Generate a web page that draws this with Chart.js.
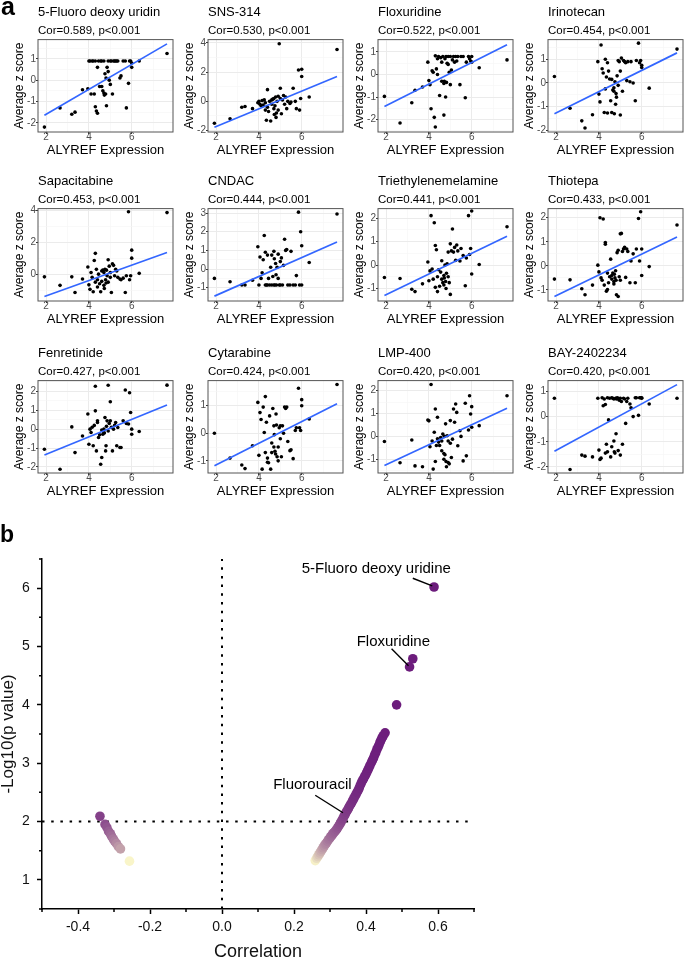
<!DOCTYPE html>
<html>
<head>
<meta charset="utf-8">
<title>ALYREF drug sensitivity</title>
<script src="https://cdn.jsdelivr.net/npm/chart.js@4.4.1/dist/chart.umd.min.js"></script>
<style>
  html, body { margin: 0; padding: 0; background: #fff; }
  body { position: relative; width: 685px; height: 961px; overflow: hidden; font-family: "Liberation Sans", Arial, sans-serif; }
  canvas { position: absolute; }
  .tag { position: absolute; font-weight: bold; line-height: 1; color: #000; z-index: 2; }
</style>
</head>
<body>
<canvas id="volcano" width="490" height="451" style="left:0;top:510px"></canvas>
<div class="tag" style="left:1px;top:-6px;font-size:25px">a</div>
<div class="tag" style="left:0px;top:523px;font-size:23px">b</div>
<script>
// ---- panel a: drug z score vs ALYREF expression ----
const drugNames = ["5-Fluoro deoxy uridin", "SNS-314", "Floxuridine", "Irinotecan",
  "Sapacitabine", "CNDAC", "Triethylenemelamine", "Thiotepa",
  "Fenretinide", "Cytarabine", "LMP-400", "BAY-2402234"];
const corText = ["Cor=0.589, p<0.001", "Cor=0.530, p<0.001", "Cor=0.522, p<0.001", "Cor=0.454, p<0.001",
  "Cor=0.453, p<0.001", "Cor=0.444, p<0.001", "Cor=0.441, p<0.001", "Cor=0.433, p<0.001",
  "Cor=0.427, p<0.001", "Cor=0.424, p<0.001", "Cor=0.420, p<0.001", "Cor=0.420, p<0.001"];

// ALYREF expression per cell line (shared by all panels)
const alyrefExpr = [1.92, 2.65, 3.2, 3.35, 3.7, 3.95, 4.0, 4.05, 4.1, 4.15,
  4.2, 4.25, 4.3, 4.3, 4.35, 4.4, 4.4, 4.45, 4.5, 4.55,
  4.6, 4.6, 4.65, 4.7, 4.7, 4.72, 4.75, 4.78, 4.8, 4.82,
  4.85, 4.9, 4.9, 4.95, 5.0, 5.0, 5.05, 5.1, 5.15, 5.2,
  5.25, 5.3, 5.35, 5.45, 5.5, 5.6, 5.7, 5.75, 5.85, 5.9,
  5.95, 6.0, 6.0, 6.35, 7.65];

const zFdU = [-2.2, -1.3, -1.6, -1.5, -0.45, -0.4, 0.9, 0.9, -0.65, 0.9,
  0.9, -0.65, -1.25, 0.9, -1.45, -1.55, 0.6, 0.9, -0.3, 0.9,
  -0.3, 0.9, -0.5, -0.6, 0.9, -0.7, 0.3, -0.65, 0.1, -1.2,
  0.6, 0.9, 0.4, 0.0, -0.2, 0.9, 0.9, -0.65, 0.9, 0.9,
  0.9, 0.9, 0.9, 0.1, 0.2, 0.9, 0.9, -1.3, -0.15, 0.9,
  0.9, 0.6, 0.8, 0.9, 1.25];
const zSNS314 = [-1.5, -1.2, -0.4, -0.35, -0.5, -0.1, 0.0, -0.2, -0.3, 0.05,
  -0.25, 0.1, -0.6, -0.1, -1.3, 0.8, -0.4, -0.7, 0.0, -1.35,
  0.1, -0.2, 0.15, -0.5, 0.2, -0.9, -0.3, 0.3, -1.1, -0.8,
  0.0, 0.35, -0.6, 3.95, 0.9, 0.2, -0.85, 0.1, 0.4, -0.2,
  0.3, -0.5, 0.0, -0.15, -0.05, 0.9, 0.0, -0.5, 2.15, -0.6,
  0.2, 2.2, 1.7, 0.3, 3.55];
const zFloxuridine = [-0.97, -2.15, -1.25, -0.7, -0.55, 0.55, -0.27, -0.45, -1.52, 0.17,
  0.1, -1.9, -2.33, 0.83, 0.25, 0.0, 0.7, 0.8, -0.93, 0.75,
  0.55, -0.3, 0.8, -1.8, -0.4, -0.3, 0.7, -1.0, 0.8, -0.35,
  0.5, 0.8, 0.45, 0.1, -0.45, 0.8, 0.2, 0.65, 0.8, 0.55,
  0.8, 0.6, 0.8, -0.45, 0.8, 0.8, -1.03, 0.55, 0.8, 0.7,
  0.6, 0.8, 0.55, 0.3, 0.65];
const zIrinotecan = [0.27, -1.07, -1.6, -1.9, -1.34, 0.9, -0.47, -0.8, 1.6, 0.6,
  0.42, -1.25, 1.0, -0.25, 0.25, 0.85, -1.27, 0.5, 0.17, -0.75,
  0.15, -1.25, -0.3, -0.35, -0.2, -1.3, 0.05, -0.9, -0.45, -0.6,
  0.3, 0.95, -0.1, 0.9, 0.5, -1.35, 1.05, -0.35, 0.95, 0.9,
  0.85, 0.1, 0.9, 0.05, 0.9, 0.0, -0.75, 0.95, 1.68, 0.85,
  0.95, 0.75, 0.65, -0.22, 1.43];
const zSapacitabine = [-0.17, -0.7, -0.17, -1.15, -0.3, 0.45, -0.67, -0.95, 0.1, -0.2,
  -1.1, 0.85, 1.3, -0.5, 0.3, -0.35, -0.8, 0.0, -0.6, -1.1,
  0.2, -0.45, 0.25, -0.7, 0.1, -0.9, 0.3, -0.35, -0.55, 0.25,
  -0.1, 0.9, -0.5, 0.5, -0.2, 0.1, -1.15, 0.65, 0.55, -0.1,
  0.3, 0.2, -0.2, -0.3, -0.35, -0.25, -1.15, -0.1, 3.9, -0.35,
  -0.1, 1.5, 1.0, 0.05, 3.85];
const zCNDAC = [-0.5, -0.68, -0.85, -0.85, -0.6, 1.2, -0.85, 0.65, -0.5, -0.2,
  0.5, 1.8, -0.85, 0.9, -0.85, 0.75, -0.85, -0.5, -0.85, 0.1,
  0.75, -0.85, -0.4, -0.85, 0.95, 0.55, -0.85, 0.3, -0.3, -0.85,
  0.1, -0.5, 0.8, -0.85, 0.4, -0.85, 0.6, -0.85, 0.2, 1.6,
  1.0, 1.05, -0.85, -0.85, 0.95, -0.85, -0.85, -0.35, 3.05, -0.85,
  2.0, 1.25, -0.85, 0.35, 2.95];
const zTEM = [-0.53, -0.57, -1.03, -1.13, -0.8, 0.13, -0.67, -0.25, 2.1, -0.17,
  -0.6, 1.8, -0.95, 0.83, 0.65, -1.13, -0.5, -0.2, -0.9, -0.3,
  0.18, -0.6, -0.75, -0.45, -0.85, -0.55, 0.0, -0.7, -1.0, -0.35,
  0.05, -0.5, 0.55, -0.75, 0.9, -1.25, 0.6, 1.53, 0.55, 0.75,
  0.2, 0.85, 0.6, 0.17, 0.7, 0.4, -0.88, 0.3, 2.1, 0.45,
  0.7, 2.3, -0.38, 0.02, 1.63];
const zThiotepa = [-0.55, -0.58, -0.95, -1.2, -0.8, 0.03, -0.25, 2.0, -0.5, -0.6,
  1.95, -0.8, 0.97, 0.9, -1.05, -0.98, -0.3, -0.7, -0.45, 0.28,
  -0.4, -0.55, -0.3, -0.65, -0.75, -0.35, -0.5, -0.2, -0.6, -1.2,
  0.55, -1.27, 0.65, -0.45, 1.33, -0.6, 1.35, 0.6, 0.7, 0.77,
  -0.48, 0.7, 0.6, -0.7, 0.2, 0.5, -0.7, 0.7, 1.97, 0.2,
  2.25, 0.7, -0.4, -0.03, 1.7];
const zFenretinide = [-1.06, -2.12, 0.12, -1.24, -0.36, 0.8, -0.8, 0.0, -0.18, 0.1,
  -0.88, 0.2, 0.97, 2.27, -1.15, 0.35, 0.44, -0.44, -0.3, -1.86,
  -1.5, -0.05, -0.27, -0.18, 0.0, -0.2, 0.62, -1.15, -0.88, 0.15,
  0.44, 2.32, -0.1, 0.3, 1.45, 0.44, 0.1, -1.15, 0.0, 0.2,
  0.35, -0.88, 0.09, -0.97, -0.97, 0.44, 2.07, 0.3, 0.27, 1.93,
  0.88, 0.0, -0.27, -0.12, 2.33];
const zCytarabine = [0.0, -0.9, -1.15, -1.28, -0.45, 1.12, -0.8, 0.75, 0.5, -1.3,
  0.95, 0.03, 1.33, -0.7, 0.4, -0.9, -1.05, -1.07, 0.63, -1.3,
  -0.35, -0.7, 0.9, 0.27, -0.5, -0.05, -0.65, -0.75, 0.7, 0.3,
  -0.85, -1.0, -0.5, 0.2, 0.27, -0.2, -0.85, 0.27, 0.0, 0.95,
  0.9, 0.95, -0.3, -0.63, -0.6, -0.92, 0.1, 0.2, 1.63, 0.2,
  0.1, 1.22, 1.0, 0.52, 1.77];
const zLMP400 = [-0.22, -1.15, -0.16, -1.29, -1.33, 0.72, 0.68, -0.45, 2.27, -0.2,
  -1.43, 0.18, -1.1, 1.2, -0.4, 0.84, -0.1, -0.25, -0.4, -0.05,
  -0.63, -0.2, 0.1, -0.75, -1.0, 0.0, -0.8, 0.55, -1.1, -1.33,
  0.03, -1.14, -0.2, -1.2, 0.69, -0.3, -0.92, -0.12, 1.2, 0.62,
  1.42, 1.05, -0.41, 0.25, 0.0, -1.07, 1.45, -0.85, 0.28, 1.78,
  0.98, 1.3, 0.4, 0.47, 1.78];
const zBAY = [0.73, -2.1, -1.53, -1.57, -1.6, 0.73, -1.33, -1.7, -1.65, 0.75,
  0.43, 0.7, 0.48, -1.45, -1.1, -1.4, 0.75, -0.13, 0.73, -1.6,
  -1.2, 0.75, 0.73, -0.97, 0.7, -1.4, -1.45, 0.73, -0.68, 0.7,
  0.75, -1.35, 0.73, 0.65, -1.53, 0.73, 0.6, -1.1, 0.73, 0.7,
  -0.27, 0.6, 0.73, 0.5, 0.35, 0.0, 0.75, 0.75, 0.05, 0.75,
  0.75, 0.75, 0.73, 0.5, 0.73];
const zScores = [zFdU, zSNS314, zFloxuridine, zIrinotecan, zSapacitabine, zCNDAC,
  zTEM, zThiotepa, zFenretinide, zCytarabine, zLMP400, zBAY];

// lm fit line, read at the lowest and highest expression value
const fitLeft = [-1.65, -1.78, -1.42, -1.3, -1.4, -1.45, -1.3, -1.27, -1.37, -1.18, -1.27, -1.38];
const fitRight = [1.7, 1.7, 1.32, 1.27, 1.35, 1.45, 1.22, 1.2, 1.28, 1.07, 1.23, 1.27];

// y limits and break step of each panel
const yLow = [-2.43, -2.1, -2.55, -2.07, -1.68, -1.71, -1.53, -1.46, -2.32, -1.44, -1.6, -2.24];
const yHigh = [1.9, 4.23, 1.55, 1.83, 4.1, 3.24, 2.4, 2.38, 2.57, 1.91, 2.44, 1.43];
const yBreak = [1, 2, 1, 1, 2, 1, 1, 1, 1, 1, 1, 1];

// ---- panel b: correlation vs -log10(p) ----
const corrNeg = [-0.339, -0.325, -0.320, -0.315, -0.310, -0.307, -0.302, -0.298, -0.293, -0.288, -0.282, -0.257];
const logPNeg = [2.09, 1.95, 1.90, 1.83, 1.79, 1.75, 1.70, 1.66, 1.62, 1.57, 1.53, 1.32];
const corrPos = [0.259, 0.263, 0.266, 0.269, 0.272, 0.275, 0.278, 0.281, 0.284, 0.287,
  0.290, 0.293, 0.296, 0.299, 0.302, 0.305, 0.308, 0.311, 0.314, 0.318,
  0.321, 0.324, 0.327, 0.330, 0.333, 0.336, 0.339, 0.342, 0.345, 0.348,
  0.351, 0.354, 0.357, 0.360, 0.363, 0.366, 0.369, 0.372, 0.375, 0.378,
  0.381, 0.384, 0.387, 0.390, 0.393, 0.396, 0.399, 0.402, 0.405, 0.408,
  0.411, 0.415, 0.418, 0.421, 0.424, 0.427, 0.430, 0.433, 0.436, 0.439,
  0.442, 0.445, 0.448, 0.453, 0.485, 0.521, 0.530, 0.589];
const logPPos = [1.33, 1.37, 1.40, 1.43, 1.46, 1.49, 1.52, 1.55, 1.58, 1.61,
  1.63, 1.66, 1.69, 1.71, 1.74, 1.76, 1.79, 1.81, 1.83, 1.86,
  1.89, 1.92, 1.95, 1.98, 2.02, 2.05, 2.09, 2.12, 2.16, 2.19,
  2.22, 2.26, 2.29, 2.32, 2.36, 2.39, 2.43, 2.46, 2.50, 2.53,
  2.57, 2.62, 2.66, 2.70, 2.73, 2.77, 2.80, 2.84, 2.88, 2.92,
  2.96, 3.01, 3.05, 3.09, 3.14, 3.18, 3.23, 3.27, 3.31, 3.36,
  3.40, 3.44, 3.47, 3.52, 4.00, 4.65, 4.79, 6.02];
const pCutoff = 2;      // -log10(0.01)
const corrZero = 0;

const calloutText = ["5-Fluoro deoxy uridine", "Floxuridine", "Fluorouracil"];
const calloutX = [0.4285, 0.476, 0.251];
const calloutY = [6.33, 5.08, 2.62];
const leaderX0 = [0.530, 0.471, 0.259];
const leaderY0 = [6.17, 4.96, 2.45];
const leaderX1 = [0.584, 0.518, 0.336];
const leaderY1 = [6.04, 4.67, 2.15];

Chart.defaults.font.family = "'Liberation Sans', Arial, sans-serif";

// major breaks + ggplot style minor breaks halfway between
function gridTicks(min, max, step) {
  const out = [];
  const first = Math.ceil(min / step - 1e-9) * step;
  for (let v = first; v <= max + 1e-9; v += step) out.push({ value: +v.toFixed(3), major: true });
  for (let v = first - step / 2; v <= max + 1e-9; v += step) {
    if (v >= min) out.push({ value: +v.toFixed(3), major: false });
  }
  return out.sort((a, b) => a.value - b.value);
}

const isMajor = c => c.tick && c.tick.major;
const bwGrid = {
  color: c => isMajor(c) ? '#EBEBEB' : '#F5F5F5',
  lineWidth: c => isMajor(c) ? 1 : 0.6,
  tickColor: c => isMajor(c) ? '#333333' : 'rgba(0,0,0,0)',
  tickLength: 2,
  tickWidth: 1
};
const majorLabel = (v, i, ticks) => ticks[i].major ? String(v) : '';

const framePlugin = {
  id: 'panelFrame',
  afterDraw(chart) {
    const a = chart.chartArea;
    const ctx = chart.ctx;
    ctx.save();
    ctx.strokeStyle = '#555555';
    ctx.lineWidth = 1;
    ctx.strokeRect(a.left, a.top, a.right - a.left, a.bottom - a.top);
    ctx.restore();
  }
};

const rowTop = [0, 169, 341];
const xLo = Math.min(...alyrefExpr);
const xHi = Math.max(...alyrefExpr);

drugNames.forEach((name, i) => {
  const cv = document.createElement('canvas');
  cv.width = 177;
  cv.height = 160;
  cv.style.left = (i % 4) * 170 + 'px';
  cv.style.top = rowTop[Math.floor(i / 4)] + 'px';
  document.body.appendChild(cv);

  new Chart(cv, {
    type: 'scatter',
    data: {
      datasets: [
        {
          data: [{ x: xLo, y: fitLeft[i] }, { x: xHi, y: fitRight[i] }],
          showLine: true,
          borderColor: '#3366FF',
          borderWidth: 1.7,
          pointRadius: 0
        },
        {
          data: alyrefExpr.map((x, j) => ({ x: x, y: zScores[i][j] })),
          pointRadius: 1.8,
          backgroundColor: '#000',
          borderWidth: 0
        }
      ]
    },
    options: {
      responsive: false,
      animation: false,
      layout: { padding: { left: 0, right: 2, top: 0, bottom: 0 } },
      plugins: {
        legend: { display: false },
        tooltip: { enabled: false },
        title: {
          display: true, text: name, align: 'start', fullSize: false, color: '#000',
          font: { size: 13, weight: 'normal', lineHeight: 1.2 },
          padding: { top: 5, bottom: 1 }
        },
        subtitle: {
          display: true, text: corText[i], align: 'start', fullSize: false, color: '#000',
          font: { size: 11.5, lineHeight: 1.2 },
          padding: { top: 2, bottom: 2.2 }
        }
      },
      scales: {
        x: {
          type: 'linear', min: 1.62, max: 7.93,
          afterBuildTicks: s => { s.ticks = gridTicks(1.62, 7.93, 2); },
          afterFit: s => { s.height = 28; },
          border: { display: false },
          grid: bwGrid,
          ticks: { autoSkip: false, maxRotation: 0, padding: -2, color: '#4D4D4D',
            font: { size: 10, lineHeight: 1 }, callback: majorLabel },
          title: { display: true, text: 'ALYREF Expression', color: '#000',
            font: { size: 13, lineHeight: 1.2 }, padding: { top: 0, bottom: 2.2 } }
        },
        y: {
          type: 'linear', min: yLow[i], max: yHigh[i],
          afterBuildTicks: s => { s.ticks = gridTicks(yLow[i], yHigh[i], yBreak[i]); },
          afterFit: s => { s.width = 38; },
          border: { display: false },
          grid: bwGrid,
          ticks: { autoSkip: false, padding: 0, color: '#4D4D4D',
            font: { size: 10, lineHeight: 1 }, callback: majorLabel },
          title: { display: true, text: 'Average z score', color: '#000',
            font: { size: 12, lineHeight: 1.2 }, padding: { top: 12.8, bottom: 0 } }
        }
      }
    },
    plugins: [framePlugin]
  });
});

// ---- panel b ----
const lowColor = [255, 255, 204];
const highColor = [108, 28, 124];
function shade(logP) {
  const t = Math.min(1, Math.max(0, 1 - Math.pow(10, -logP) / 0.05));
  const c = lowColor.map((v, k) => Math.round(v + (highColor[k] - v) * t));
  return 'rgb(' + c.join(',') + ')';
}

const volcanoPoints = corrNeg.map((c, k) => ({ x: c, y: logPNeg[k] }))
  .concat(corrPos.map((c, k) => ({ x: c, y: logPPos[k] })));

const minorTicks = {
  id: 'minorTicks',
  afterDraw(chart) {
    const { ctx, chartArea: a, scales: { x, y } } = chart;
    ctx.save();
    ctx.strokeStyle = '#000';
    ctx.lineWidth = 1.5;
    ctx.beginPath();
    for (let v = -0.5; v <= 0.7001; v += 0.2) {
      const px = x.getPixelForValue(v);
      ctx.moveTo(px, a.bottom);
      ctx.lineTo(px, a.bottom + 3);
    }
    for (let v = 0.5; v <= 6.5001; v += 1) {
      const py = y.getPixelForValue(v);
      ctx.moveTo(a.left - 3, py);
      ctx.lineTo(a.left, py);
    }
    ctx.stroke();
    ctx.restore();
  }
};

const calloutPlugin = {
  id: 'callouts',
  afterDatasetsDraw(chart) {
    const { ctx, scales: { x, y } } = chart;
    ctx.save();
    ctx.fillStyle = '#000';
    ctx.strokeStyle = '#000';
    ctx.lineWidth = 1.4;
    ctx.font = "15px 'Liberation Sans', Arial, sans-serif";
    ctx.textAlign = 'center';
    ctx.textBaseline = 'middle';
    calloutText.forEach((t, k) => {
      ctx.fillText(t, x.getPixelForValue(calloutX[k]), y.getPixelForValue(calloutY[k]));
      ctx.beginPath();
      ctx.moveTo(x.getPixelForValue(leaderX0[k]), y.getPixelForValue(leaderY0[k]));
      ctx.lineTo(x.getPixelForValue(leaderX1[k]), y.getPixelForValue(leaderY1[k]));
      ctx.stroke();
    });
    ctx.restore();
  }
};

new Chart(document.getElementById('volcano'), {
  type: 'scatter',
  data: {
    datasets: [
      {
        data: volcanoPoints,
        backgroundColor: c => c.raw ? shade(c.raw.y) : '#6c1c7c',
        pointRadius: 4.8,
        borderWidth: 0
      },
      {
        data: [{ x: corrZero, y: 0.5 }, { x: corrZero, y: 6.5 }],
        showLine: true, borderColor: '#000', borderWidth: 2, borderDash: [2.5, 6.2], pointRadius: 0
      },
      {
        data: [{ x: -0.5, y: pCutoff }, { x: 0.7, y: pCutoff }],
        showLine: true, borderColor: '#000', borderWidth: 2, borderDash: [2.5, 6.7], pointRadius: 0
      }
    ]
  },
  options: {
    responsive: false,
    animation: false,
    layout: { padding: { left: 0, right: 16, top: 49, bottom: 0 } },
    plugins: { legend: { display: false }, tooltip: { enabled: false } },
    scales: {
      x: {
        type: 'linear', min: -0.5, max: 0.7,
        afterBuildTicks: s => { s.ticks = [-0.4, -0.2, 0, 0.2, 0.4, 0.6].map(v => ({ value: v })); },
        afterFit: s => { s.height = 52; },
        border: { display: true, color: '#000', width: 1.5 },
        grid: { drawOnChartArea: false, drawTicks: true, tickLength: 5, tickWidth: 1.5, tickColor: '#000' },
        ticks: { autoSkip: false, maxRotation: 0, padding: 4.3, color: '#111',
          font: { size: 14 }, callback: v => v.toFixed(1) },
        title: { display: true, text: 'Correlation', color: '#111',
          font: { size: 18, lineHeight: 1 }, padding: { top: 0, bottom: 0 } }
      },
      y: {
        type: 'linear', min: 0.5, max: 6.5,
        afterBuildTicks: s => { s.ticks = [1, 2, 3, 4, 5, 6].map(v => ({ value: v })); },
        afterFit: s => { s.width = 42; },
        border: { display: true, color: '#000', width: 1.5 },
        grid: { drawOnChartArea: false, drawTicks: true, tickLength: 5, tickWidth: 1.5, tickColor: '#000' },
        ticks: { autoSkip: false, padding: 7.3, color: '#111', font: { size: 14 } },
        title: { display: true, text: '-Log10(p value)', color: '#111',
          font: { size: 17, lineHeight: 1 }, padding: { top: 0.2, bottom: 0 } }
      }
    }
  },
  plugins: [minorTicks, calloutPlugin]
});
</script>
</body>
</html>
